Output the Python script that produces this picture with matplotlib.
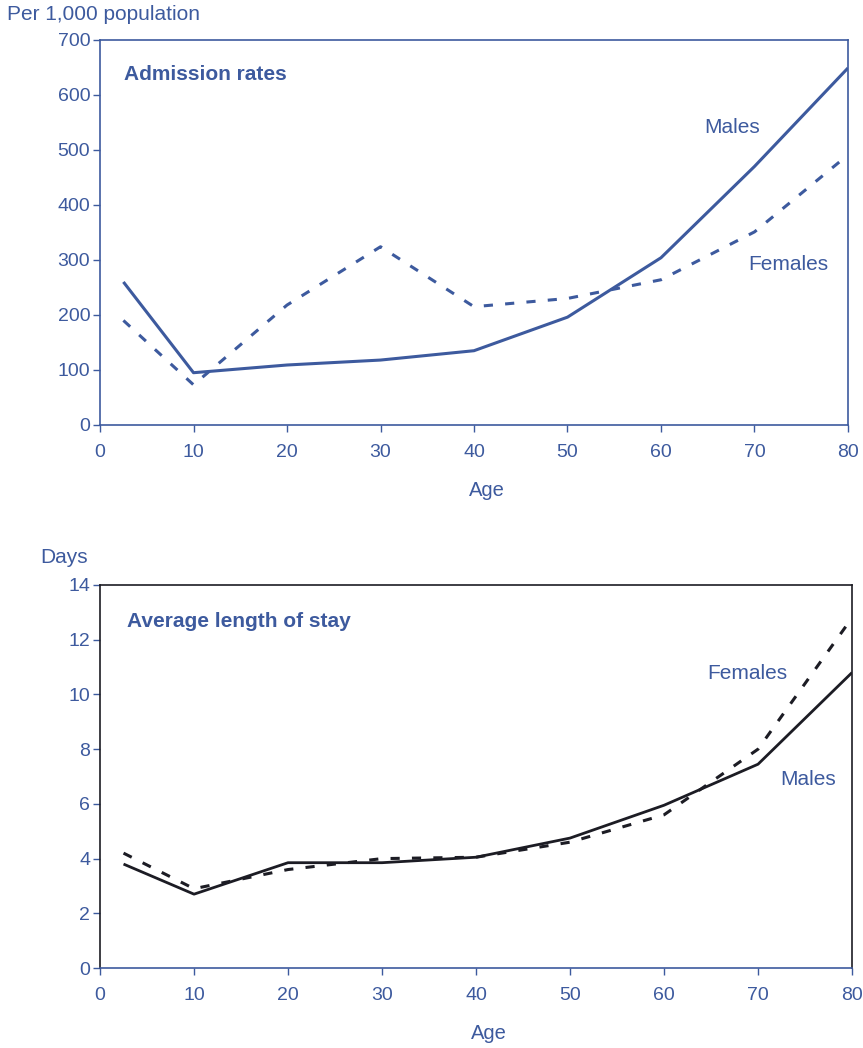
import matplotlib.pyplot as plt

plt.rcParams['font.family'] = ['Liberation Sans', 'DejaVu Sans']

# data
ages = [2.5, 10, 20, 30, 40, 50, 60, 70, 80]
adm_males = [260, 95, 109, 118, 135, 196, 304, 470, 649]
adm_females = [190, 73, 218, 324, 215, 230, 264, 351, 491]
stay_males = [3.8, 2.7, 3.85, 3.85, 4.05, 4.75, 5.95, 7.45, 10.8]
stay_females = [4.2, 2.9, 3.6, 4.0, 4.05, 4.6, 5.6, 8.0, 12.8]

blue = '#3d5a9e'
dark = '#1c1c24'

fig = plt.figure(figsize=(8.63, 10.48), dpi=100)
ax1 = fig.add_axes([0.1159, 0.5945, 0.8667, 0.3674])
ax2 = fig.add_axes([0.1159, 0.0763, 0.8714, 0.3655])


def style(ax, col, ymax, ystep):
    ax.set_xlim(0, 80)
    ax.set_ylim(0, ymax)
    ax.set_xticks(range(0, 81, 10))
    ax.set_yticks(range(0, ymax + 1, ystep))
    for s in ax.spines.values():
        s.set_color(col)
        s.set_linewidth(1.2)
    ax.spines['bottom'].set_color(blue)
    ax.tick_params(axis='both', colors=blue, labelsize=14, length=5, width=1)
    ax.tick_params(axis='x', pad=9)
    ax.tick_params(axis='y', pad=2)
    ax.set_xlabel('Age', color=blue, fontsize=14.5, labelpad=10)
    ax.xaxis.set_label_coords(0.517, -0.145)


# top panel
ax1.plot(ages, adm_males, color=blue, lw=2.2, solid_capstyle='butt')
ax1.plot(ages, adm_females, color=blue, lw=2.2, ls=(0, (3, 4)))
style(ax1, blue, 700, 100)
ax1.text(2.6, 638, 'Admission rates', color=blue, fontsize=15, fontweight='bold', va='center')
ax1.text(64.6, 540, 'Males', color=blue, fontsize=15, va='center')
ax1.text(69.3, 292, 'Females', color=blue, fontsize=15, va='center')
fig.text(0.008, 0.986, 'Per 1,000 population', color=blue, fontsize=15, va='center')

# bottom panel
ax2.plot(ages, stay_males, color=dark, lw=2, solid_capstyle='butt')
ax2.plot(ages, stay_females, color=dark, lw=2.2, ls=(0, (3, 4)))
style(ax2, dark, 14, 2)
ax2.text(2.9, 12.65, 'Average length of stay', color=blue, fontsize=15, fontweight='bold', va='center')
ax2.text(64.6, 10.75, 'Females', color=blue, fontsize=15, va='center')
ax2.text(72.4, 6.9, 'Males', color=blue, fontsize=15, va='center')
fig.text(0.047, 0.468, 'Days', color=blue, fontsize=15, va='center')

fig.savefig('out.png', dpi=100, facecolor='white')
